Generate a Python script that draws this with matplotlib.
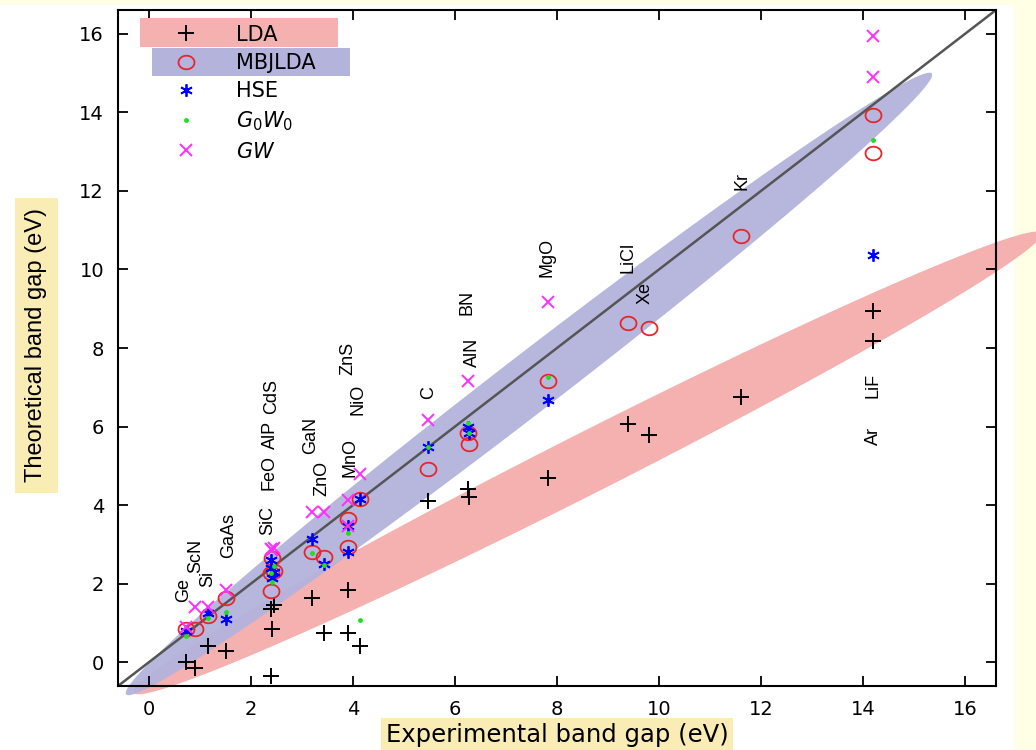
import numpy as np
import matplotlib
matplotlib.use("Agg")
import matplotlib.pyplot as plt
from matplotlib.patches import Polygon, Rectangle
from matplotlib.path import Path

plt.rcParams['font.family'] = ['Liberation Sans', 'DejaVu Sans']
plt.rcParams['mathtext.fontset'] = 'custom'
plt.rcParams['mathtext.it'] = 'DejaVu Sans:italic'
plt.rcParams['mathtext.rm'] = 'DejaVu Sans'

nan = np.nan

# band gaps in eV, one entry per material
materials = ['Ge', 'ScN', 'Si', 'GaAs', 'SiC', 'FeO', 'AlP', 'CdS', 'GaN', 'ZnO',
             'ZnS', 'MnO', 'NiO', 'C', 'AlN', 'BN', 'MgO', 'LiCl', 'Xe', 'Kr', 'LiF', 'Ar']
exp_gap = [0.74, 0.90, 1.17, 1.52, 2.40, 2.40, 2.45, 2.42, 3.20, 3.44,
           3.91, 3.90, 4.15, 5.48, 6.28, 6.25, 7.83, 9.40, 9.80, 11.60, 14.20, 14.20]
lda = [0.00, -0.15, 0.43, 0.29, 1.36, -0.35, 1.45, 0.86, 1.63, 0.75,
       1.84, 0.76, 0.42, 4.11, 4.20, 4.40, 4.69, 6.07, 5.78, 6.76, 8.93, 8.17]
mbjlda = [0.86, 0.86, 1.17, 1.65, 2.28, 1.82, 2.32, 2.66, 2.80, 2.67,
          3.66, 2.93, 4.16, 4.93, 5.55, 5.83, 7.17, 8.64, 8.50, 10.84, 12.95, 13.92]
hse = [0.81, nan, 1.27, 1.10, 2.40, 2.60, 2.30, 2.14, 3.14, 2.50,
       3.46, 2.80, 4.16, 5.47, 5.83, 5.98, 6.67, nan, nan, nan, nan, 10.36]
g0w0 = [0.66, nan, 1.13, 1.29, 2.27, nan, 2.46, 2.05, 2.79, 2.47,
        3.29, nan, 1.08, 5.48, 5.83, 6.08, 7.25, nan, nan, nan, 13.28, nan]
gw = [0.89, 1.40, 1.40, 1.85, 2.88, nan, 2.90, 2.87, 3.82, 3.82,
      4.14, 3.48, 4.80, 6.18, nan, 7.15, 9.16, nan, nan, nan, 15.93, 14.90]

# where the material names sit (data coords, text rotated 90 deg)
label_pos = [('Ge', 0.68, 1.85), ('ScN', 0.93, 2.72), ('Si', 1.15, 2.12), ('GaAs', 1.57, 3.23),
             ('SiC', 2.33, 3.61), ('FeO', 2.36, 4.83), ('AlP', 2.38, 5.80), ('CdS', 2.40, 6.77),
             ('ZnO', 3.40, 4.68), ('GaN', 3.17, 5.78), ('MnO', 3.95, 5.22), ('NiO', 4.10, 6.69),
             ('ZnS', 3.90, 7.74), ('C', 5.48, 6.87), ('AlN', 6.34, 7.89), ('BN', 6.24, 9.16),
             ('MgO', 7.80, 10.30), ('LiCl', 9.39, 10.30), ('Xe', 9.73, 9.41), ('Kr', 11.62, 12.26),
             ('LiF', 14.19, 7.05), ('Ar', 14.19, 5.75)]

red_band = '#F5B0B0'
blue_band = '#B3B3DC'
label_box = '#F9EDB5'


def band(tip1, tip2, h):
    # sheared ellipse between two tips, vertical half width h
    c = (np.array(tip1) + np.array(tip2)) / 2.0
    a = (np.array(tip2) - np.array(tip1)) / 2.0
    t = np.linspace(0, 2 * np.pi, 200)
    xs = c[0] + a[0] * np.cos(t)
    ys = c[1] + a[1] * np.cos(t) + h * np.sin(t)
    return np.column_stack([xs, ys])


# the original picture is a bit stretched sideways, so the circles are wide ellipses
tt = np.linspace(0, 2 * np.pi, 60)
oval = Path(np.column_stack([np.cos(tt), 0.85 * np.sin(tt)]), closed=True)

fig = plt.figure(figsize=(10.36, 7.5), dpi=100, facecolor='#FFFFE6')
fig.patches.append(Rectangle((0, 0), 1014 / 1036, 745 / 750, transform=fig.transFigure,
                             facecolor='white', edgecolor='none', zorder=-10))
ax = fig.add_axes([118 / 1036, 64 / 750, 878 / 1036, 676 / 750])

ax.add_patch(Polygon(band((-0.3, -0.75), (17.5, 10.9), 0.86), closed=True,
                     facecolor=red_band, edgecolor='none', clip_on=False, zorder=1))
ax.add_patch(Polygon(band((-0.45, -0.78), (15.35, 14.95), 0.93), closed=True,
                     facecolor=blue_band, edgecolor='none', clip_on=False, zorder=1.5, alpha=0.95))

ax.axline((0, 0), slope=1, color='#555555', lw=1.8, zorder=2)

ax.plot(exp_gap, lda, ls='none', marker='+', ms=11, mew=1.4, color='black', label='LDA', zorder=3)
ax.plot(exp_gap, mbjlda, ls='none', marker=oval, ms=11.5, mew=1.3, mfc='none', mec='#E8262A',
        label='MBJLDA', zorder=4)
ax.plot(exp_gap, hse, ls='none', marker=(6, 2, 0), ms=9, mew=1.3, color='#0000FF', label='HSE', zorder=5)
ax.plot(exp_gap, g0w0, ls='none', marker='o', ms=3.5, mew=0, color='#1EE01E',
        label=r'$G_{\mathrm{0}}W_{\mathrm{0}}$', zorder=6)
ax.plot(exp_gap, gw, ls='none', marker='x', ms=9, mew=1.4, color='#FF2EFF', label=r'$GW$', zorder=7)

for name, lx, ly in label_pos:
    ax.text(lx, ly, name, rotation=90, ha='center', va='center', fontsize=13, zorder=8)

ax.set_xlim(-0.6, 16.6)
ax.set_ylim(-0.6, 16.6)
ax.set_xticks(np.arange(0, 17, 2))
ax.set_yticks(np.arange(0, 17, 2))
ax.tick_params(direction='in', top=True, right=True, length=7, width=1.3, labelsize=14, pad=10)
for lab in ax.get_xticklabels() + ax.get_yticklabels():
    lab.set_family('DejaVu Sans')
for s in ax.spines.values():
    s.set_linewidth(1.5)

ax.set_xlabel('Experimental band gap (eV)', fontsize=17.5, family='DejaVu Sans', va='center',
              bbox=dict(boxstyle='square,pad=0.2', facecolor=label_box, edgecolor='none'))
ax.set_ylabel('Theoretical band gap (eV)', fontsize=17, va='center',
              bbox=dict(boxstyle='square,pad=0.45', facecolor=label_box, edgecolor='none'))
ax.xaxis.set_label_coords(0.5, -0.073)
ax.yaxis.set_label_coords(-0.093, 0.504)

# coloured strips behind the first two legend entries
ax.add_patch(Rectangle((0.025, 0.945), 0.226, 0.043, transform=ax.transAxes,
                       facecolor=red_band, edgecolor='none', zorder=9))
ax.add_patch(Rectangle((0.039, 0.902), 0.225, 0.042, transform=ax.transAxes,
                       facecolor=blue_band, edgecolor='none', zorder=9))

leg = ax.legend(loc='upper left', bbox_to_anchor=(0.032, 1.006), frameon=False,
                prop={'family': 'DejaVu Sans', 'size': 15},
                handlelength=2, handletextpad=1.4, labelspacing=0.4, borderpad=0.4)
leg.set_zorder(10)

fig.savefig('out.png', dpi=100, facecolor=fig.get_facecolor())
